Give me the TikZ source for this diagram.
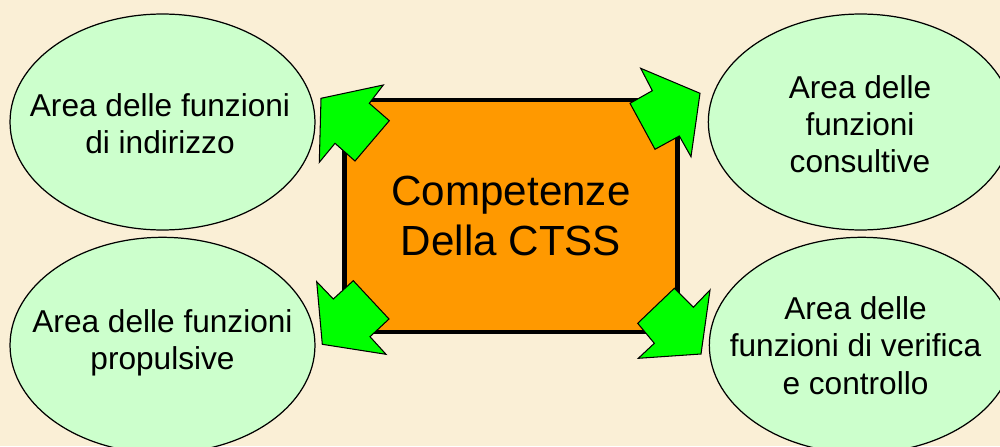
\documentclass[tikz,border=0pt]{standalone}
\usepackage{fontspec}
\setmainfont{Liberation Sans}
\usepackage{xcolor}
\usepackage{tikz}
\usetikzlibrary{shapes.geometric}
\definecolor{fondo}{RGB}{250,239,214}
\definecolor{verdino}{RGB}{204,255,204}
\definecolor{verde}{RGB}{0,255,0}
\definecolor{arancio}{RGB}{255,153,0}
\tikzset{
  area/.style={ellipse,draw=black,fill=verdino,line width=0.7pt,minimum width=6.1cm,minimum height=4.32cm,inner sep=0pt},
  testo/.style={align=center,inner sep=0pt,font=\fontsize{18}{21.2}\selectfont},
  centro/.style={draw=black,fill=arancio,line width=2.7pt,minimum width=6.66cm,minimum height=4.64cm,inner sep=0pt,align=center,font=\fontsize{24}{28}\selectfont},
  freccia/.style={draw=black,fill=verde,line width=0.6pt,line join=miter}
}
\begin{document}
\begin{tikzpicture}[x=0.02cm,y=-0.02cm]
\useasboundingbox (0,0) rectangle (1000,446);
\clip (0,0) rectangle (1000,446);
\fill[fondo] (0,0) rectangle (1000,446);
% le quattro aree
\node[area] (indirizzo) at (162.5,122) {};
\node[area] (propulsive) at (162.5,345.3) {};
\node[area] (consultive) at (860.8,122) {};
\node[area] (verifica) at (861.8,345.3) {};
\node[testo] (t1) at (160,124) {Area delle funzioni\\di indirizzo};
\node[testo] (t2) at (162.5,343) {Area delle funzioni\\propulsive};
\node[testo] (t3) at (860,124) {Area delle\\funzioni\\consultive};
\node[testo] (t4) at (855.5,345.5) {Area delle\\funzioni di verifica\\e controllo};
% riquadro centrale
\node[centro] (ctss) at (511,216) {Competenze\\Della CTSS};
% frecce verso gli angoli
\draw[freccia] (321,98.3) -- (383.3,85) -- (369.3,103.3) -- (389.3,120.7) -- (355,161) -- (335,143.3) -- (319.3,162.3) -- cycle;
\draw[freccia] (640.7,68.3) -- (700,93.3) -- (691,156.7) -- (679.3,136) -- (655,149.3) -- (630,103.3) -- (652.3,90.7) -- cycle;
\draw[freccia] (316.7,281.7) -- (333.3,299) -- (353.3,280.7) -- (389,319) -- (370,336.7) -- (386,354.3) -- (322.3,344.3) -- cycle;
\draw[freccia] (674.3,288.3) -- (693.3,307.3) -- (710,290) -- (701,354) -- (638.3,358.3) -- (654.3,343.3) -- (637.7,323.3) -- cycle;
\end{tikzpicture}
\end{document}
